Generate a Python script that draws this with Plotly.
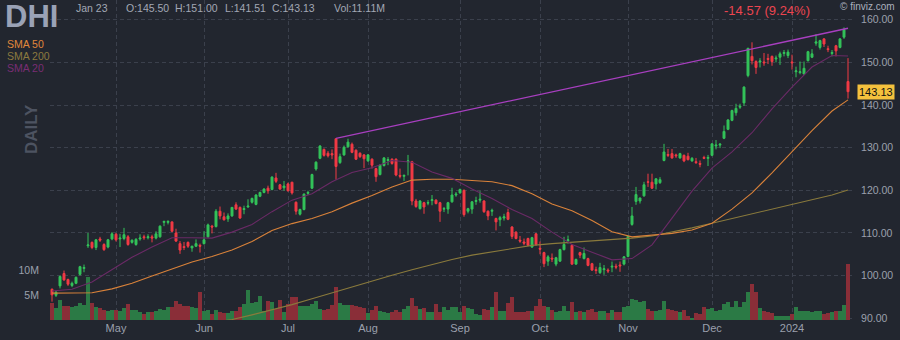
import pandas as pd
import plotly.graph_objects as go

# ---- trading calendar (NYSE sessions) ----
holidays = ["2023-04-07", "2023-05-29", "2023-06-19", "2023-07-04", "2023-09-04",
            "2023-11-23", "2023-12-25", "2024-01-01", "2024-01-15"]
dates = pd.bdate_range("2023-04-06", "2024-01-23", freq="C", holidays=holidays)
idx = list(range(len(dates)))

month_labels = ["May", "Jun", "Jul", "Aug", "Sep", "Oct", "Nov", "Dec", "2024"]

# ---- daily OHLC (DHI) ----
opens = [
    96.8, 95.4, 97.6, 100.5, 99.1, 97.7, 98.2, 100.3, 101.7, 107.0,
    107.8, 106.6, 108.6, 107.3, 106.7, 108.6, 109.7, 108.6, 108.7, 109.1,
    107.8, 107.3, 108.6, 109.1, 108.9, 109.1, 108.8, 109.1, 112.5, 112.5,
    112.6, 110.0, 107.5, 106.8, 107.8, 106.5, 106.9, 107.1, 107.5, 109.1,
    111.6, 111.5, 115.1, 113.8, 113.3, 114.0, 116.6, 116.0, 115.5, 116.1,
    117.2, 116.7, 118.6, 119.5, 120.5, 120.2, 122.9, 121.3, 120.6, 121.5,
    121.9, 117.2, 114.4, 115.5, 119.3, 120.5, 125.0, 127.5, 129.6, 128.7,
    128.6, 132.1, 126.5, 128.3, 130.2, 130.8, 129.4, 128.7, 128.3, 126.9,
    127.3, 125.1, 123.7, 125.8, 127.0, 127.3, 127.3, 123.5, 123.3, 126.7,
    126.7, 117.5, 115.7, 117.1, 117.0, 117.6, 117.7, 117.1, 115.6, 115.6,
    117.3, 118.9, 119.4, 120.0, 115.1, 115.6, 117.4, 117.7, 117.5, 115.1,
    115.1, 113.4, 113.1, 113.5, 114.8, 111.4, 110.2, 108.3, 107.9, 108.7,
    106.7, 109.8, 106.4, 105.4, 103.4, 104.1, 102.7, 103.4, 106.1, 108.2,
    107.1, 102.7, 105.4, 104.0, 104.0, 102.8, 101.4, 100.7, 101.4, 101.3,
    102.0, 102.2, 102.5, 102.7, 104.5, 112.0, 117.4, 117.5, 118.7, 122.0,
    121.9, 121.5, 121.8, 127.0, 128.4, 128.6, 128.3, 127.6, 128.2, 128.0,
    126.9, 126.7, 126.3, 127.7, 127.5, 128.2, 130.4, 130.6, 132.2, 134.3,
    136.4, 138.2, 139.5, 140.5, 146.9, 151.4, 150.2, 150.1, 150.1, 150.9,
    151.4, 150.8, 151.2, 152.1, 151.6, 150.1, 147.8, 147.6, 147.3, 150.4,
    151.2, 154.5, 153.5, 155.5, 153.2, 152.1, 153.9, 153.5, 155.9, 145.50,
]
highs = [
    97.0, 96.5, 100.0, 101.2, 99.3, 98.6, 99.8, 102.3, 102.6, 110.0,
    108.0, 108.6, 109.1, 107.6, 108.6, 110.2, 110.0, 109.8, 111.2, 109.5,
    108.5, 108.8, 109.7, 109.6, 109.7, 109.6, 110.4, 111.8, 112.9, 113.0,
    112.7, 111.0, 108.1, 107.9, 108.0, 107.0, 108.5, 107.5, 110.4, 112.2,
    111.9, 115.6, 116.2, 114.8, 114.6, 116.1, 117.2, 116.2, 116.4, 117.9,
    118.3, 119.1, 119.7, 120.5, 121.1, 123.3, 124.1, 121.5, 122.2, 121.8,
    122.0, 117.4, 115.7, 119.3, 119.9, 123.9, 126.8, 130.6, 129.8, 129.2,
    129.6, 132.2, 128.6, 130.5, 132.1, 131.2, 129.6, 128.9, 128.5, 128.5,
    127.5, 125.3, 126.1, 127.8, 127.8, 127.5, 127.5, 125.1, 123.7, 128.3,
    126.9, 118.0, 117.7, 117.3, 117.7, 118.9, 117.9, 117.3, 116.1, 117.3,
    120.6, 119.6, 120.4, 120.2, 115.9, 117.5, 118.5, 119.8, 117.7, 115.3,
    115.7, 113.6, 114.0, 114.5, 115.7, 111.6, 110.4, 109.3, 108.7, 108.9,
    109.1, 110.0, 108.0, 105.6, 104.8, 105.2, 104.4, 106.3, 109.1, 109.4,
    107.3, 104.0, 105.6, 106.6, 104.2, 103.0, 102.1, 103.0, 102.5, 101.7,
    103.3, 102.8, 103.3, 104.6, 109.4, 116.1, 120.8, 118.3, 122.0, 123.9,
    123.9, 122.8, 123.1, 130.9, 129.7, 129.7, 128.6, 128.8, 128.4, 128.8,
    127.8, 127.6, 127.0, 128.1, 128.3, 131.0, 131.8, 131.1, 135.2, 136.7,
    138.9, 140.3, 140.3, 144.4, 153.4, 154.7, 150.5, 151.0, 152.2, 152.0,
    151.6, 151.6, 152.5, 152.9, 153.0, 151.8, 149.0, 150.2, 150.2, 152.7,
    153.1, 156.6, 155.3, 155.7, 153.9, 152.9, 154.1, 155.7, 158.2, 151.00,
]
lows = [
    93.9, 95.0, 97.0, 98.8, 97.6, 97.3, 98.0, 100.0, 100.8, 106.5,
    106.2, 106.0, 107.9, 105.8, 106.4, 108.3, 108.0, 106.7, 108.3, 107.0,
    107.5, 107.0, 108.2, 108.4, 108.5, 107.8, 108.5, 108.9, 111.6, 112.0,
    110.2, 107.9, 105.1, 106.0, 106.5, 105.6, 106.7, 105.4, 107.3, 108.9,
    109.9, 111.3, 113.2, 112.9, 112.6, 113.8, 115.4, 113.3, 114.4, 115.9,
    116.9, 116.5, 118.4, 119.3, 119.2, 120.0, 121.7, 120.1, 119.9, 119.7,
    119.0, 114.3, 114.1, 115.3, 118.9, 120.3, 124.6, 127.3, 127.9, 127.7,
    127.3, 122.5, 126.2, 128.1, 130.0, 128.7, 127.1, 127.6, 125.2, 126.7,
    125.1, 122.0, 123.5, 125.6, 125.9, 126.0, 123.3, 122.8, 122.2, 123.5,
    116.5, 115.9, 115.5, 114.5, 116.5, 116.5, 116.7, 112.6, 114.9, 114.5,
    117.1, 118.5, 119.2, 113.8, 114.6, 114.5, 116.6, 117.1, 114.7, 113.0,
    114.0, 110.6, 111.6, 112.9, 113.0, 108.6, 108.5, 107.7, 107.1, 106.9,
    106.5, 107.0, 105.0, 102.0, 102.3, 103.2, 102.2, 103.2, 105.9, 107.5,
    102.5, 102.5, 104.1, 103.8, 102.2, 101.1, 100.4, 100.4, 100.2, 100.6,
    100.8, 101.5, 100.9, 102.4, 104.3, 111.7, 116.6, 116.9, 118.5, 120.8,
    120.3, 120.2, 121.5, 126.8, 127.8, 127.4, 127.6, 127.4, 126.6, 127.0,
    126.7, 126.2, 125.4, 127.3, 125.7, 128.0, 129.6, 129.9, 132.0, 134.1,
    136.2, 137.5, 139.1, 139.8, 146.5, 149.5, 147.3, 148.8, 149.2, 149.6,
    149.2, 150.0, 149.4, 151.4, 151.0, 148.3, 146.5, 147.2, 147.1, 150.2,
    151.0, 153.9, 153.0, 153.6, 152.4, 151.4, 151.4, 153.3, 155.5, 141.51,
]
closes = [
    95.5, 96.1, 99.8, 99.0, 98.0, 98.2, 99.6, 102.1, 101.9, 107.2,
    106.6, 108.4, 108.3, 106.1, 108.4, 109.8, 108.4, 108.8, 109.6, 107.3,
    108.3, 108.5, 108.8, 108.9, 109.1, 108.8, 109.8, 111.6, 112.7, 112.7,
    110.4, 108.1, 106.0, 106.6, 106.9, 106.9, 107.5, 106.9, 108.4, 111.9,
    111.4, 115.1, 114.0, 113.1, 114.0, 116.0, 115.6, 113.5, 115.7, 116.3,
    118.1, 118.9, 119.5, 120.3, 119.9, 123.1, 122.1, 120.3, 121.0, 119.9,
    119.4, 115.1, 115.5, 119.1, 119.5, 123.7, 126.6, 130.4, 128.2, 128.1,
    128.3, 125.6, 127.9, 130.1, 131.3, 128.9, 127.3, 127.9, 127.4, 128.3,
    125.9, 123.2, 125.9, 127.6, 127.2, 126.3, 123.6, 123.3, 123.5, 126.9,
    117.5, 116.2, 117.5, 116.1, 117.1, 117.8, 116.9, 115.1, 115.7, 117.1,
    118.9, 119.1, 120.2, 114.3, 115.7, 117.3, 117.6, 117.9, 115.0, 114.0,
    115.3, 112.6, 113.6, 113.8, 113.2, 109.2, 108.7, 108.1, 107.6, 107.1,
    108.9, 107.3, 106.2, 102.8, 104.4, 103.9, 104.2, 106.1, 107.3, 108.4,
    102.7, 103.8, 104.8, 105.2, 102.4, 101.3, 101.2, 101.9, 101.6, 101.1,
    102.2, 102.0, 102.3, 104.4, 109.2, 114.0, 119.0, 118.2, 121.3, 121.9,
    120.5, 122.7, 122.5, 129.0, 128.2, 127.6, 128.1, 128.6, 126.9, 127.2,
    127.5, 126.5, 126.1, 127.5, 127.7, 130.9, 130.6, 130.8, 133.8, 136.5,
    138.7, 139.2, 139.7, 144.2, 153.3, 150.4, 148.8, 150.3, 149.9, 150.7,
    150.2, 151.0, 152.0, 152.3, 152.4, 149.9, 148.0, 147.8, 148.6, 152.5,
    152.0, 154.8, 155.1, 154.3, 153.0, 152.3, 152.7, 155.5, 157.70, 143.13,
]
# daily volume, millions of shares
volume_m = [
    3.4, 2.4, 4.1, 2.9, 2.9, 2.7, 2.9, 3.4, 3.0, 8.7,
    3.4, 2.6, 2.4, 2.1, 1.9, 2.0, 2.0, 1.9, 2.4, 3.2,
    2.0, 2.0, 1.6, 1.2, 1.6, 1.7, 1.9, 2.2, 2.1, 2.6,
    2.7, 3.9, 3.2, 2.8, 2.9, 2.6, 2.4, 5.6, 1.9, 2.0,
    1.2, 2.0, 1.6, 1.4, 1.4, 1.8, 1.9, 2.7, 3.2, 6.1,
    3.4, 3.6, 4.9, 1.9, 3.8, 3.6, 2.2, 4.1, 1.6, 3.2,
    4.6, 4.6, 2.9, 2.8, 2.8, 3.2, 3.9, 2.2, 2.0, 2.2,
    3.0, 6.6, 3.4, 3.0, 3.0, 3.0, 2.8, 2.6, 2.4, 1.4,
    2.1, 2.9, 1.9, 1.7, 1.4, 1.6, 2.1, 1.6, 2.2, 2.8,
    4.4, 2.8, 2.2, 2.4, 1.6, 1.7, 3.2, 1.7, 2.6, 2.0,
    2.7, 2.7, 1.6, 2.9, 2.4, 2.2, 1.2, 1.0, 2.2, 2.0,
    2.6, 5.6, 1.9, 1.8, 3.4, 4.6, 1.7, 1.6, 1.7, 1.9,
    1.9, 2.9, 4.2, 2.9, 2.7, 2.0, 1.7, 1.9, 2.9, 1.9,
    3.6, 1.7, 1.8, 1.6, 2.0, 2.2, 1.7, 1.9, 1.8, 1.4,
    2.0, 1.6, 1.7, 2.7, 2.9, 4.2, 4.0, 3.6, 3.9, 2.2,
    1.9, 1.9, 2.0, 3.8, 2.2, 2.0, 1.9, 1.7, 2.0, 0.9,
    0.4, 1.4, 1.2, 2.7, 2.2, 2.4, 1.9, 2.0, 3.2, 3.6,
    2.7, 3.9, 2.6, 3.6, 5.6, 7.2, 5.6, 2.4, 1.8, 1.6,
    1.4, 0.9, 0.9, 0.9, 0.9, 1.2, 2.7, 1.9, 1.8, 1.9,
    1.6, 1.9, 1.9, 1.2, 1.4, 1.6, 1.8, 1.9, 3.1, 11.11,
]

# moving averages, sampled every 5 sessions (plus the last one)
sma_idx = [0, 5, 10, 15, 20, 25, 30, 35, 40, 45, 50, 55, 60, 65, 70, 75, 80, 85, 90, 95,
           100, 105, 110, 115, 120, 125, 130, 135, 140, 145, 150, 155, 160, 165, 170, 175,
           180, 185, 190, 195, 199]
sma20 = [96.4, 96.8, 98.5, 101.5, 104.3, 106.7, 108.9, 108.9, 108.8, 110.2,
         112.0, 115.0, 117.7, 119.2, 122.0, 124.2, 125.3, 127.0, 126.6, 124.3,
         122.8, 120.3, 118.1, 115.5, 113.4, 110.2, 107.3, 105.5, 103.7, 104.0,
         107.2, 113.5, 119.8, 125.2, 129.0, 133.5, 139.1, 144.2, 148.9, 151.6, 151.5]
sma50 = [95.9, 95.9, 96.0, 96.9, 98.2, 99.9, 101.6, 103.2, 104.5, 106.0,
         108.0, 110.6, 112.2, 113.4, 115.0, 117.0, 118.8, 120.8, 122.4, 122.6,
         122.6, 122.3, 122.0, 121.1, 119.2, 116.8, 115.2, 112.9, 110.3, 109.1,
         109.5, 109.9, 110.7, 112.3, 115.6, 119.4, 124.1, 129.0, 134.0, 138.6, 141.2]
sma200 = [None, None, None, None, None, None, None, None, 89.0, 89.7,
          90.8, 92.0, 93.2, 94.6, 96.0, 97.4, 98.8, 100.1, 101.4, 102.6,
          103.8, 104.8, 105.6, 106.4, 107.1, 107.5, 107.8, 108.1, 108.4, 108.8,
          109.3, 110.2, 111.2, 112.3, 113.4, 114.6, 115.7, 116.8, 117.8, 118.9, 120.1]

# hand-drawn resistance line (session index, price)
trend_idx = [71, 199]
trend_val = [132.2, 158.0]

last_close = closes[-1]
prev_close = closes[-2]

# ---- styling ----
BG = "#22262f"
GRID = "#3b404c"
AXIS_TXT = "#9ba0ad"
GREEN = "#33c35a"
RED = "#f23a45"
VOL_GREEN = "#2b7a45"
VOL_RED = "#8a2e38"
FONT = "Liberation Sans, Arial, sans-serif"

PL, PR, PT, PB = 50, 852, 0, 320


def px(x):
    return (x - PL) / (PR - PL)


def py(y):
    return 1 - (y - PT) / (PB - PT)


# first session of each new month -> x ticks
tickvals = [i for i in idx[1:] if dates[i].month != dates[i - 1].month]

vol_colors = [VOL_GREEN if c >= o else VOL_RED for o, c in zip(opens, closes)]

fig = go.Figure()

fig.add_trace(go.Bar(
    x=idx, y=[v * 1e6 for v in volume_m], marker=dict(color=vol_colors, line=dict(width=0)),
    yaxis="y", hoverinfo="skip", showlegend=False,
))

for vals, col in ((sma200, "#8a7a3c"), (sma50, "#d9823a"), (sma20, "#6a2a66")):
    fig.add_trace(go.Scatter(
        x=sma_idx, y=vals, mode="lines", yaxis="y2",
        line=dict(color=col, width=1.1), hoverinfo="skip", showlegend=False,
    ))

fig.add_trace(go.Scatter(
    x=trend_idx, y=trend_val, mode="lines", yaxis="y2",
    line=dict(color="#a83fc0", width=1.3), hoverinfo="skip", showlegend=False,
))

fig.add_trace(go.Candlestick(
    x=idx, open=opens, high=highs, low=lows, close=closes, yaxis="y2",
    increasing=dict(line=dict(color=GREEN, width=1), fillcolor=GREEN),
    decreasing=dict(line=dict(color=RED, width=1), fillcolor=RED),
    whiskerwidth=0, hoverinfo="skip", showlegend=False,
))

annotations = [
    dict(x=px(3), y=py(16), text="<b>DHI</b>", font=dict(size=31, color="#9aa2b6")),
    dict(x=px(74), y=py(8), text="Jan 23", font=dict(size=10.5, color="#a3a8b5")),
    dict(x=px(124), y=py(8), text="O:%.2f" % opens[-1], font=dict(size=10.5, color="#a3a8b5")),
    dict(x=px(173), y=py(8), text="H:%.2f" % highs[-1], font=dict(size=10.5, color="#a3a8b5")),
    dict(x=px(223), y=py(8), text="L:%.2f" % lows[-1], font=dict(size=10.5, color="#a3a8b5")),
    dict(x=px(270), y=py(8), text="C:%.2f" % last_close, font=dict(size=10.5, color="#a3a8b5")),
    dict(x=px(332), y=py(8), text="Vol:%.2fM" % volume_m[-1], font=dict(size=10.5, color="#a3a8b5")),
    dict(x=px(722), y=py(10),
         text="%.2f (%.2f%%)" % (last_close - prev_close, abs(last_close - prev_close) / prev_close * 100),
         font=dict(size=13, color="#ec4550")),
    dict(x=px(897), y=py(7), xanchor="right", text="© finviz.com", font=dict(size=10, color="#aab0bd")),
    dict(x=px(5), y=py(44), text="SMA 50", font=dict(size=10.5, color="#e0873b")),
    dict(x=px(5), y=py(56), text="SMA 200", font=dict(size=10.5, color="#8c7a3f")),
    dict(x=px(5), y=py(68), text="SMA 20", font=dict(size=10.5, color="#7a2d74")),
    dict(x=px(31), y=py(129), xanchor="center", text="<b>DAILY</b>", textangle=-90,
         font=dict(size=17, color="#4d5361")),
    dict(x=px(857), y=last_close, yref="y2", text="%.2f" % last_close, bgcolor="#f4c13d",
         borderpad=1, font=dict(size=11, color="#111111")),
]
for a in annotations:
    a.setdefault("xref", "paper")
    a.setdefault("yref", "paper")
    a.setdefault("xanchor", "left")
    a.setdefault("yanchor", "middle")
    a["showarrow"] = False
    a["font"]["family"] = FONT

fig.update_layout(
    width=900, height=340,
    margin=dict(l=PL, r=900 - PR, t=PT, b=340 - PB),
    paper_bgcolor=BG, plot_bgcolor=BG,
    font=dict(family=FONT, color=AXIS_TXT),
    bargap=0, showlegend=False,
    annotations=annotations,
    xaxis=dict(
        range=[-0.5, 200], tickvals=tickvals, ticktext=month_labels,
        showgrid=True, gridcolor=GRID, griddash="4px,3px", gridwidth=1,
        zeroline=False, showline=False, ticks="", tickfont=dict(size=11, color=AXIS_TXT),
        rangeslider=dict(visible=False), fixedrange=True,
    ),
    yaxis=dict(
        range=[0, 64e6], side="left", tickvals=[5e6, 10e6], ticktext=["5M", "10M"],
        showgrid=False, zeroline=False, showline=False,
        ticks="outside", ticklen=8, tickcolor=BG, tickfont=dict(size=10.5, color=AXIS_TXT),
        fixedrange=True,
    ),
    yaxis2=dict(
        overlaying="y", side="right", range=[89.6, 164.62], tick0=0, dtick=10,
        tickformat=".2f", showgrid=True, gridcolor=GRID, griddash="4px,3px", gridwidth=1,
        zeroline=False, showline=False, ticks="outside", ticklen=6, tickcolor=BG,
        tickfont=dict(size=10.5, color=AXIS_TXT), fixedrange=True,
    ),
)

fig.write_html("out.html")
